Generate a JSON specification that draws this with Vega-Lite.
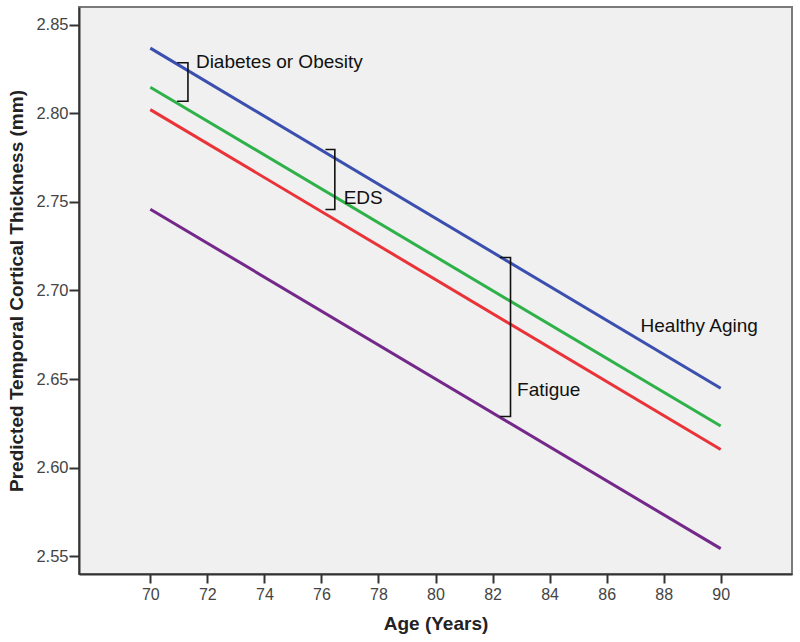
{
  "$schema": "https://vega.github.io/schema/vega-lite/v6.json",
  "width": 713,
  "height": 567,
  "autosize": "none",
  "padding": {"left": 79, "top": 7, "right": 8, "bottom": 68},
  "background": "#ffffff",
  "config": {
    "view": {"fill": "#f0f0f0", "stroke": "#7a7a7a", "strokeWidth": 2},
    "font": "Liberation Sans"
  },
  "datasets": {
    "lines": [
      {"group": "Healthy Aging", "age": 70, "thickness": 2.8368},
      {"group": "Healthy Aging", "age": 90, "thickness": 2.6448},
      {"group": "Diabetes or Obesity", "age": 70, "thickness": 2.8147},
      {"group": "Diabetes or Obesity", "age": 90, "thickness": 2.6235},
      {"group": "EDS", "age": 70, "thickness": 2.8021},
      {"group": "EDS", "age": 90, "thickness": 2.6103},
      {"group": "Fatigue", "age": 70, "thickness": 2.7459},
      {"group": "Fatigue", "age": 90, "thickness": 2.5543}
    ],
    "brackets": [
      {"bracket": "Diabetes", "k": 1, "age": 70.94, "thickness": 2.8285},
      {"bracket": "Diabetes", "k": 2, "age": 71.32, "thickness": 2.8285},
      {"bracket": "Diabetes", "k": 3, "age": 71.32, "thickness": 2.8068},
      {"bracket": "Diabetes", "k": 4, "age": 70.94, "thickness": 2.8068},
      {"bracket": "EDS", "k": 1, "age": 76.14, "thickness": 2.7796},
      {"bracket": "EDS", "k": 2, "age": 76.47, "thickness": 2.7796},
      {"bracket": "EDS", "k": 3, "age": 76.47, "thickness": 2.7457},
      {"bracket": "EDS", "k": 4, "age": 76.14, "thickness": 2.7457},
      {"bracket": "Fatigue", "k": 1, "age": 82.26, "thickness": 2.7186},
      {"bracket": "Fatigue", "k": 2, "age": 82.63, "thickness": 2.7186},
      {"bracket": "Fatigue", "k": 3, "age": 82.63, "thickness": 2.6289},
      {"bracket": "Fatigue", "k": 4, "age": 82.26, "thickness": 2.6289}
    ],
    "labels": [
      {"label": "Diabetes or Obesity", "age": 71.6, "thickness": 2.8253},
      {"label": "EDS", "age": 76.78, "thickness": 2.7489},
      {"label": "Fatigue", "age": 82.86, "thickness": 2.6402},
      {"label": "Healthy Aging", "age": 87.19, "thickness": 2.6763}
    ]
  },
  "encoding": {
    "x": {
      "field": "age",
      "type": "quantitative",
      "scale": {"domain": [67.5, 92.5], "nice": false, "zero": false},
      "axis": {
        "title": "Age (Years)",
        "values": [70, 72, 74, 76, 78, 80, 82, 84, 86, 88, 90],
        "grid": false,
        "domainColor": "#333333",
        "domainWidth": 2,
        "tickColor": "#333333",
        "tickWidth": 2,
        "tickSize": 9,
        "labelPadding": 3,
        "labelFontSize": 16,
        "labelColor": "#444444",
        "labelFont": "Liberation Sans",
        "titleFont": "Liberation Sans",
        "titleFontSize": 19,
        "titleFontWeight": "bold",
        "titleColor": "#222222",
        "titlePadding": 12
      }
    },
    "y": {
      "field": "thickness",
      "type": "quantitative",
      "scale": {"domain": [2.54, 2.86], "nice": false, "zero": false},
      "axis": {
        "title": "Predicted Temporal Cortical Thickness (mm)",
        "values": [2.55, 2.6, 2.65, 2.7, 2.75, 2.8, 2.85],
        "format": ".2f",
        "grid": false,
        "domainColor": "#333333",
        "domainWidth": 2,
        "tickColor": "#333333",
        "tickWidth": 2,
        "tickSize": 10,
        "labelPadding": 1,
        "labelFontSize": 16.5,
        "labelColor": "#444444",
        "labelFont": "Liberation Sans",
        "titleFont": "Liberation Sans",
        "titleFontSize": 19,
        "titleFontWeight": "bold",
        "titleColor": "#222222",
        "titlePadding": 9
      }
    }
  },
  "layer": [
    {
      "data": {"name": "lines"},
      "mark": {"type": "line", "strokeWidth": 3},
      "encoding": {
        "color": {
          "field": "group",
          "type": "nominal",
          "scale": {
            "domain": ["Healthy Aging", "Diabetes or Obesity", "EDS", "Fatigue"],
            "range": ["#3a4fae", "#2fb14a", "#ea3338", "#73288a"]
          },
          "legend": null
        }
      }
    },
    {
      "data": {"name": "brackets"},
      "mark": {"type": "line", "color": "#111111", "strokeWidth": 1.6},
      "encoding": {
        "detail": {"field": "bracket", "type": "nominal"},
        "order": {"field": "k", "type": "quantitative"}
      }
    },
    {
      "data": {"name": "labels"},
      "mark": {"type": "text", "align": "left", "baseline": "alphabetic", "fontSize": 19, "font": "Liberation Sans", "color": "#111111"},
      "encoding": {
        "text": {"field": "label", "type": "nominal"}
      }
    }
  ]
}
